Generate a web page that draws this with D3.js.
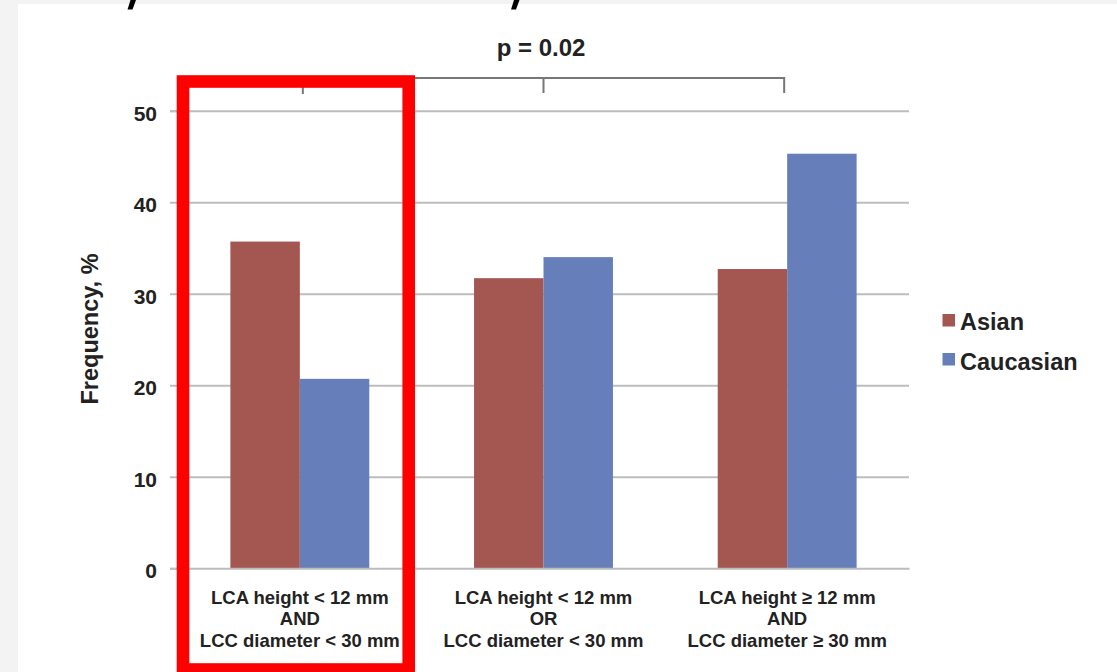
<!DOCTYPE html>
<html>
<head>
<meta charset="utf-8">
<script src="https://cdn.jsdelivr.net/npm/d3@7"></script>
<style>
  body { margin: 0; background: #f3f3f3; }
  svg { display: block; font-family: "Liberation Sans", Arial, sans-serif; font-weight: bold; }
</style>
</head>
<body>
<svg id="chart"></svg>
<script>
// values
const categories = ["g1", "g2", "g3"];
const categoryLines = [
    ["LCA height < 12 mm", "AND", "LCC diameter < 30 mm"],
    ["LCA height < 12 mm", "OR", "LCC diameter < 30 mm"],
    ["LCA height \u2265 12 mm", "AND", "LCC diameter \u2265 30 mm"]
];
const seriesNames = ["Asian", "Caucasian"];
const asianValues = [35.7, 31.7, 32.7];
const caucasianValues = [20.7, 34.0, 45.3];
const yTicks = [0, 10, 20, 30, 40, 50];
const pText = "p = 0.02";
const yTitle = "Frequency, %";

function main() {
    const W = 1117, H = 672;
    const svg = d3.select("#chart").attr("width", W).attr("height", H);

    // white sheet, with a grey strip on the left and the top
    svg.append("rect").attr("x", 18).attr("y", 4).attr("width", W - 18).attr("height", H - 4).attr("fill", "#ffffff");

    // the tails of the heading that is cut off above the picture
    [0, 383.5].forEach(dx => {
        svg.append("path")
            .attr("d", `M${130.5 + dx},0L${136 + dx},0L${132.5 + dx},9.6L${127.5 + dx},9.6Z`)
            .attr("fill", "#000");
    });

    const left = 178, right = 909, top = 110.7, bottom = 568.3;

    let x0 = d3.scaleBand()
        .domain(categories)
        .range([left, right])
        .paddingInner(0.43)
        .paddingOuter(0.215);
    let x1 = d3.scaleBand()
        .domain(seriesNames)
        .range([0, x0.bandwidth()]);
    let y = d3.scaleLinear()
        .domain([0, 50])
        .range([bottom, top]);
    let color = d3.scaleOrdinal()
        .domain(seriesNames)
        .range(["#a45650", "#667fba"]);

    // gridlines
    svg.append("g")
        .attr("transform", `translate(${left},0)`)
        .call(d3.axisLeft(y).tickValues(yTicks.filter(d => d > 0)).tickSize(-(right - left)).tickFormat(""))
        .call(g => g.select(".domain").remove())
        .selectAll("line").attr("stroke", "#bdbdbd").attr("stroke-width", 2);

    // y axis with labels
    svg.append("g")
        .attr("transform", `translate(${left},0)`)
        .call(d3.axisLeft(y).tickValues(yTicks).tickSize(8).tickPadding(13))
        .call(g => g.select(".domain").attr("stroke", "#bdbdbd").attr("stroke-width", 2))
        .call(g => g.selectAll("line").attr("stroke", "#bdbdbd").attr("stroke-width", 2))
        .selectAll("text")
        .attr("font-size", 21)
        .attr("font-family", "Liberation Sans, Arial, sans-serif")
        .attr("font-weight", "bold")
        .attr("fill", "#222")
        .attr("dy", "0.45em");

    // bars
    const rows = categories.map((c, i) => ({
        cat: c,
        values: [
            { name: "Asian", value: asianValues[i] },
            { name: "Caucasian", value: caucasianValues[i] }
        ]
    }));

    svg.append("g")
        .selectAll("g")
        .data(rows)
        .join("g")
        .attr("transform", d => `translate(${x0(d.cat)},0)`)
        .selectAll("rect")
        .data(d => d.values)
        .join("rect")
        .attr("x", d => x1(d.name))
        .attr("y", d => y(d.value))
        .attr("width", x1.bandwidth())
        .attr("height", d => y(0) - y(d.value))
        .attr("fill", d => color(d.name));

    // x axis line
    svg.append("g")
        .attr("transform", `translate(0,${y(0)})`)
        .call(d3.axisBottom(x0).tickSize(0).tickFormat(""))
        .select(".domain").attr("stroke", "#bdbdbd").attr("stroke-width", 2);

    // category labels
    categories.forEach((c, i) => {
        const t = svg.append("text")
            .attr("text-anchor", "middle")
            .attr("font-size", 18.5)
            .attr("fill", "#222");
        categoryLines[i].forEach((line, k) => {
            t.append("tspan")
                .attr("x", x0(c) + x0.bandwidth() / 2)
                .attr("y", 603.5 + k * 21.8)
                .text(line);
        });
    });

    // y title
    svg.append("text")
        .text(yTitle)
        .attr("font-size", 23.5)
        .attr("fill", "#222")
        .attr("text-anchor", "middle")
        .attr("transform", `translate(98, 329) rotate(-90)`);

    // legend
    const legend = svg.append("g");
    seriesNames.forEach((s, i) => {
        legend.append("rect")
            .attr("x", 942.5).attr("y", 314 + i * 39)
            .attr("width", 12.5).attr("height", 12.5)
            .attr("fill", color(s));
        legend.append("text")
            .attr("x", 960).attr("y", 330 + i * 39.5)
            .attr("font-size", 23.5)
            .attr("fill", "#222")
            .text(s);
    });

    // significance bracket
    const cx = c => x0(c) + x0.bandwidth() / 2;
    svg.append("path")
        .attr("d", `M${cx("g1") + 3},94V78H${cx("g3") - 3}V93M${cx("g2")},78V93`)
        .attr("fill", "none")
        .attr("stroke", "#777")
        .attr("stroke-width", 2);
    svg.append("text")
        .text(pText)
        .attr("x", 541).attr("y", 56)
        .attr("text-anchor", "middle")
        .attr("font-size", 24)
        .attr("fill", "#222");

    // red highlight box around the first group
    svg.append("rect")
        .attr("x", 183).attr("y", 81.5)
        .attr("width", 225.7).attr("height", 588)
        .attr("fill", "none")
        .attr("stroke", "#ff0000")
        .attr("stroke-width", 12.6);
}

main();
</script>
</body>
</html>
